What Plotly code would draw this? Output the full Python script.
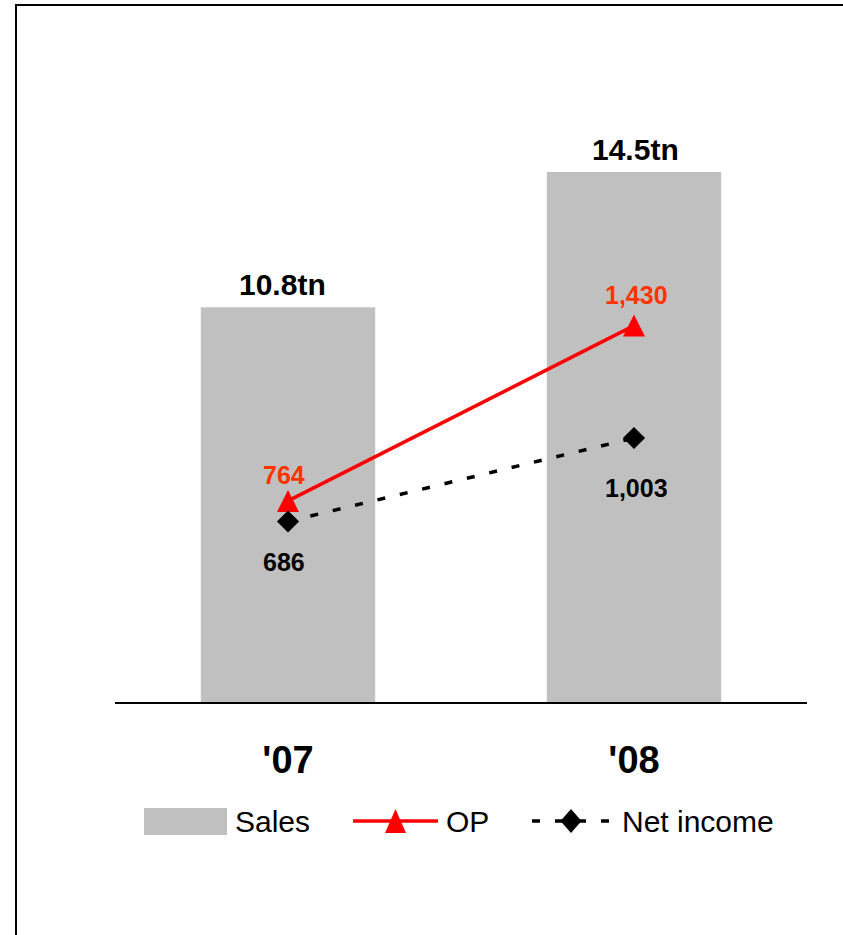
import plotly.graph_objects as go

# ---- data -------------------------------------------------------------
years = ["'07", "'08"]
sales_tn = [10.8, 14.5]          # sales, trillion
op = [764, 1430]                 # operating profit
net_income = [686, 1003]         # net income

# ---- figure geometry --------------------------------------------------
W, H = 843, 935
ML, MR, MT, MB = 115, 36, 44, 233
PW, PH = W - ML - MR, H - MT - MB

FONT = "Liberation Sans, Arial, sans-serif"
GREY = "#C0C0C0"
RED = "#FF0000"
LABEL_RED = "#FF3300"


def px(x):
    """pixel x -> paper x"""
    return (x - ML) / PW


def py(y):
    """pixel y (from top) -> paper y"""
    return (H - MB - y) / PH


fig = go.Figure()

fig.add_trace(go.Bar(
    x=years, y=sales_tn, name="Sales",
    width=0.504, marker=dict(color=GREY, line=dict(width=0)),
    hoverinfo="skip",
))
fig.add_trace(go.Scatter(
    x=years, y=op, name="OP", yaxis="y2", mode="lines+markers",
    line=dict(color=RED, width=3.5),
    marker=dict(symbol="arrow-down", angle=180, standoff=11, size=22, color=RED),
))
fig.add_trace(go.Scatter(
    x=years, y=net_income, name="Net income", yaxis="y2", mode="lines+markers",
    line=dict(color="black", width=3.5, dash="8px,15px"),
    marker=dict(symbol="diamond", size=17, color="black"),
))

annotations = []
# sales labels above the bars
for i, (yr, v) in enumerate(zip(years, sales_tn)):
    annotations.append(dict(
        x=yr, y=v, xref="x", yref="y", text=f"{v}tn", showarrow=False,
        xanchor="center", yanchor="bottom", yshift=4, xshift=[-6, 1][i],
        font=dict(family=FONT, size=30, color="black", weight="bold"),
    ))
# operating profit labels above the markers
for i, (yr, v) in enumerate(zip(years, op)):
    annotations.append(dict(
        x=yr, y=v, xref="x", yref="y2", text=f"{v:,}", showarrow=False,
        xanchor="center", yanchor="middle", yshift=[26, 31][i], xshift=[-4, 2][i],
        font=dict(family=FONT, size=25, color=LABEL_RED, weight="bold"),
    ))
# net income labels below the markers
for i, (yr, v) in enumerate(zip(years, net_income)):
    annotations.append(dict(
        x=yr, y=v, xref="x", yref="y2", text=f"{v:,}", showarrow=False,
        xanchor="center", yanchor="middle", yshift=[-41, -50][i], xshift=[-4, 2][i],
        font=dict(family=FONT, size=25, color="black", weight="bold"),
    ))

# ---- legend (drawn by hand, wide symbols) -----------------------------
LEG_Y = 821
shapes = [
    # outer frame
    dict(type="rect", xref="paper", yref="paper",
         x0=px(16), y0=py(5), x1=px(W + 20), y1=py(H + 20),
         line=dict(color="black", width=2), fillcolor="rgba(0,0,0,0)"),
    # Sales swatch
    dict(type="rect", xref="paper", yref="paper",
         x0=px(144), x1=px(227), y0=py(835), y1=py(808),
         line=dict(width=0), fillcolor=GREY),
    # OP line + triangle
    dict(type="line", xref="paper", yref="paper",
         x0=px(353), x1=px(438), y0=py(LEG_Y), y1=py(LEG_Y),
         line=dict(color=RED, width=3.5)),
    dict(type="path", xref="paper", yref="paper",
         path=(f"M{px(395.5)},{py(LEG_Y - 12)} L{px(406)},{py(LEG_Y + 12)} "
               f"L{px(385)},{py(LEG_Y + 12)} Z"),
         line=dict(width=0), fillcolor=RED),
    # Net income dashed line + diamond
    dict(type="line", xref="paper", yref="paper",
         x0=px(532), x1=px(611), y0=py(LEG_Y), y1=py(LEG_Y),
         line=dict(color="black", width=3.5, dash="8px,15px")),
    dict(type="path", xref="paper", yref="paper",
         path=(f"M{px(571)},{py(LEG_Y - 12)} L{px(581.5)},{py(LEG_Y)} "
               f"L{px(571)},{py(LEG_Y + 12)} L{px(560.5)},{py(LEG_Y)} Z"),
         line=dict(width=0), fillcolor="black"),
]
for label, x0 in (("Sales", 233), ("OP", 444), ("Net income", 620)):
    annotations.append(dict(
        x=px(x0), y=py(LEG_Y), xref="paper", yref="paper", text=label,
        showarrow=False, xanchor="left", yanchor="middle",
        font=dict(family=FONT, size=30, color="black"),
    ))

fig.update_layout(
    width=W, height=H,
    margin=dict(l=ML, r=MR, t=MT, b=MB, pad=0),
    paper_bgcolor="white", plot_bgcolor="white",
    showlegend=False,
    font=dict(family=FONT, color="black"),
    xaxis=dict(
        type="category", range=[-0.5, 1.5],
        showline=True, linecolor="black", linewidth=2,
        showgrid=False, zeroline=False, ticks="",
        tickfont=dict(family=FONT, size=38, color="black", weight="bold"),
        ticklabelstandoff=23,
    ),
    yaxis=dict(range=[0, 18], visible=False, showgrid=False, zeroline=False),
    yaxis2=dict(range=[0, 2500], overlaying="y", visible=False,
                showgrid=False, zeroline=False),
    annotations=annotations,
    shapes=shapes,
)

fig.write_html("out.html")
